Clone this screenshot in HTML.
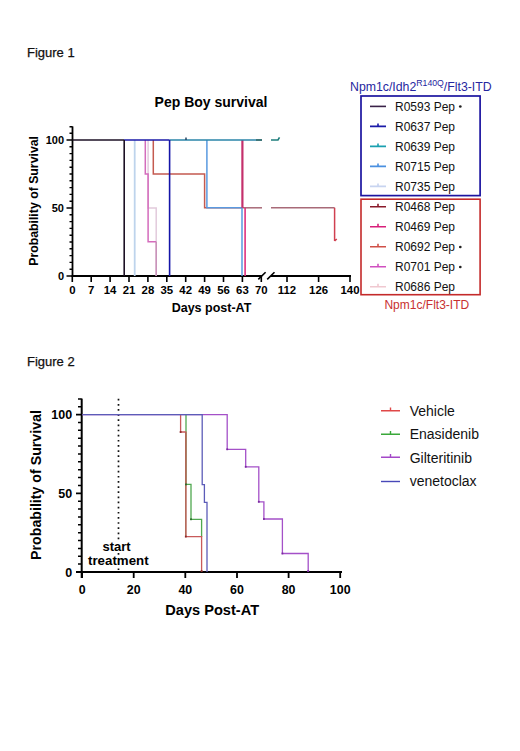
<!DOCTYPE html>
<html><head><meta charset="utf-8"><style>
html,body{margin:0;padding:0;background:#fff;width:520px;height:751px;overflow:hidden}
svg{position:absolute;left:0;top:0;display:block}
text{font-family:"Liberation Sans",sans-serif}
.b{font-weight:bold}
</style></head><body>
<svg width="520" height="751" viewBox="0 0 520 751">
<rect width="520" height="751" fill="#fff"/>
<!-- Figure captions -->
<text x="27" y="56.7" font-size="13" fill="#111" stroke="#111" stroke-width="0.25">Figure 1</text>
<text x="27" y="365.7" font-size="13" fill="#111" stroke="#111" stroke-width="0.25">Figure 2</text>

<!-- ============ CHART 1 ============ -->
<text x="211" y="106.7" font-size="14" class="b" text-anchor="middle" fill="#000">Pep Boy survival</text>
<text transform="translate(37.6,200.9) rotate(-90)" font-size="12.3" class="b" text-anchor="middle" fill="#000">Probability of Survival</text>
<!-- y labels -->
<g font-size="11" class="b" text-anchor="end" fill="#000">
<text x="64" y="144">100</text>
<text x="64" y="212">50</text>
<text x="64" y="280">0</text>
</g>
<!-- axes -->
<g stroke="#000" fill="none">
<path d="M72.5,126.4 V276.8" stroke-width="1.8"/>
<path d="M71.6,276 H262 M271,276 H351" stroke-width="1.8"/>
<path d="M66.5,140 H72.5 M66.5,208 H72.5 M66.5,276 H72.5" stroke-width="1.6"/>
<path d="M69.5,126.8 H72.5 M69.5,133.2 H72.5 M69.5,146.8 H72.5 M69.5,153.6 H72.5 M69.5,160.4 H72.5 M69.5,167.2 H72.5 M69.5,174 H72.5 M69.5,180.8 H72.5 M69.5,187.6 H72.5 M69.5,194.4 H72.5 M69.5,201.2 H72.5 M69.5,214.8 H72.5 M69.5,221.6 H72.5 M69.5,228.4 H72.5 M69.5,235.2 H72.5 M69.5,242 H72.5 M69.5,248.8 H72.5 M69.5,255.6 H72.5 M69.5,262.4 H72.5 M69.5,269.2 H72.5" stroke-width="1.4"/>
<path d="M72.3,276 V282 M91.2,276 V282 M110.1,276 V282 M129,276 V282 M147.9,276 V282 M166.8,276 V282 M185.7,276 V282 M204.6,276 V282 M223.5,276 V282 M242.4,276 V282 M261.3,276 V282 M287,276 V282 M318.6,276 V282 M350,276 V282" stroke-width="1.6"/>
<path d="M258.3,279.4 L265.6,272.2 M267.2,279.4 L274.5,272.2" stroke-width="1.6"/>
</g>
<g font-size="11.4" class="b" text-anchor="middle" fill="#000">
<text x="72.3" y="294.2">0</text><text x="91.2" y="294.2">7</text><text x="110.1" y="294.2">14</text><text x="129" y="294.2">21</text><text x="147.9" y="294.2">28</text><text x="166.8" y="294.2">35</text><text x="185.7" y="294.2">42</text><text x="204.6" y="294.2">49</text><text x="223.5" y="294.2">56</text><text x="242.4" y="294.2">63</text><text x="261.3" y="294.2">70</text><text x="287" y="294.2">112</text><text x="318.6" y="294.2">126</text><text x="350" y="294.2">140</text>
</g>
<text x="211.5" y="312.2" font-size="12.5" class="b" text-anchor="middle" fill="#000">Days post-AT</text>

<!-- curves chart 1 -->
<g fill="none" stroke-width="1.5">
<!-- R0686 light pink -->
<path d="M148.1,140 V208 H156.2 V276" stroke="#e2cadc"/>
<!-- R0735 very light blue -->
<path d="M134.7,140 V276" stroke="#bed4ec" stroke-width="1.8"/>
<!-- R0701 pink magenta -->
<path d="M145.3,140 V174 H148.1 V241.8 H156.2" stroke="#d46cbc"/><path d="M156.2,241.8 V276" stroke="#c890b8"/>
<!-- R0692 red-brown -->
<path d="M153.3,140 V174 H204.6 V207.8 H244" stroke="#c45a50"/><path d="M244,207.8 H262" stroke="#a86a78"/>
<path d="M271,207.8 H334.6" stroke="#a86a78"/>
<path d="M334.6,207.8 V241 M334.6,241 L336.8,239" stroke="#d04050"/>
<!-- R0715 light blue -->
<path d="M206.9,140 V207.8 H242 V276" stroke="#5a9ae0"/>
<!-- R0469 magenta -->
<path d="M242.4,140 V207.8" stroke="#c4306c" stroke-width="2.2"/>
<path d="M245.1,207.8 V276" stroke="#e0307e" stroke-width="1.6"/>
<!-- top line segments -->
<path d="M72.5,140 H124" stroke="#1c1024" stroke-width="1.6"/>
<path d="M124,140 H169.6" stroke="#1a1aa8" stroke-width="1.6"/>
<path d="M169.6,140 H256" stroke="#2a84a8" stroke-width="1.6"/><path d="M256,140 H262" stroke="#1c5e62" stroke-width="1.7"/>
<path d="M271,140 H278 L279.5,137.3" stroke="#1e7e7c" stroke-width="1.6"/>
<path d="M186,140 V137.5" stroke="#1a3a5a" stroke-width="1.4"/>
<!-- R0593 dark -->
<path d="M124.2,140 V276" stroke="#1c1024" stroke-width="1.6"/>
<!-- R0637 blue -->
<path d="M169.6,140 V276" stroke="#1414a8" stroke-width="1.6"/>
</g>

<!-- legend chart 1 -->
<text x="350" y="90.6" font-size="12.3" fill="#2626a0">Npm1c/Idh2<tspan font-size="8.7" dy="-4.9">R140Q</tspan><tspan dy="4.9">/Flt3-ITD</tspan></text>
<rect x="361" y="96" width="119.1" height="99.6" fill="none" stroke="#1c14a0" stroke-width="1.7"/>
<rect x="361" y="199.2" width="119.1" height="95.5" fill="none" stroke="#c42a2a" stroke-width="1.6"/>
<g font-size="12" fill="#111">
<text x="395" y="110.5">R0593 Pep</text>
<text x="395" y="130.5">R0637 Pep</text>
<text x="395" y="150.5">R0639 Pep</text>
<text x="395" y="170.5">R0715 Pep</text>
<text x="395" y="190.5">R0735 Pep</text>
<text x="395" y="211">R0468 Pep</text>
<text x="395" y="231">R0469 Pep</text>
<text x="395" y="251">R0692 Pep</text>
<text x="395" y="271">R0701 Pep</text>
<text x="395" y="291">R0686 Pep</text>
</g>
<g fill="#222">
<circle cx="460.3" cy="106.5" r="1.35"/>
<circle cx="460.3" cy="247" r="1.35"/>
<circle cx="460.3" cy="267" r="1.35"/>
</g>
<g fill="none" stroke-width="1.6">
<path d="M370,106.4 H386" stroke="#3a2248"/>
<path d="M370,126.4 H386 M378,126.4 V123.4" stroke="#1a1aa8"/>
<path d="M370,146.4 H386 M378,146.4 V143.4" stroke="#1aa0b0"/>
<path d="M370,166.4 H386 M378,166.4 V163.4" stroke="#4a90e0"/>
<path d="M370,186.4 H386 M378,186.4 V183.4" stroke="#c8d4f0"/>
<path d="M370,206.8 H386 M378,206.8 V203.8" stroke="#8a1a2a"/>
<path d="M370,226.8 H386 M378,226.8 V223.8" stroke="#d8207a"/>
<path d="M370,246.8 H386 M378,246.8 V243.8" stroke="#d05048"/>
<path d="M370,266.8 H386 M378,266.8 V263.8" stroke="#d050c0"/>
<path d="M370,286.8 H386 M378,286.8 V283.8" stroke="#f0c8d0"/>
</g>
<text x="426.8" y="309.3" font-size="12" text-anchor="middle" fill="#c83030">Npm1c/Flt3-ITD</text>

<!-- ============ CHART 2 ============ -->
<text transform="translate(40.6,485) rotate(-90)" font-size="14.2" class="b" text-anchor="middle" fill="#000">Probability of Survival</text>
<g font-size="12.5" class="b" text-anchor="end" fill="#000">
<text x="72.2" y="419.1">100</text>
<text x="72.2" y="497.8">50</text>
<text x="72.2" y="576.5">0</text>
</g>
<g stroke="#000" fill="none">
<path d="M81.7,398.6 V578" stroke-width="2"/>
<path d="M80.7,572 H342" stroke-width="2"/>
<path d="M76,414.6 H81.7 M76,493.3 H81.7 M76,572 H81.7" stroke-width="1.8"/>
<path id="mt" d="M78,398.9 H81.7 M78,406.7 H81.7 M78,422.5 H81.7 M78,430.3 H81.7 M78,438.2 H81.7 M78,446.1 H81.7 M78,454 H81.7 M78,461.8 H81.7 M78,469.7 H81.7 M78,477.6 H81.7 M78,485.4 H81.7 M78,501.2 H81.7 M78,509 H81.7 M78,516.9 H81.7 M78,524.8 H81.7 M78,532.7 H81.7 M78,540.5 H81.7 M78,548.4 H81.7 M78,556.3 H81.7 M78,564.1 H81.7" stroke-width="1.5"/>
<path d="M82.1,572 V578 M133.7,572 V578 M185.3,572 V578 M237,572 V578 M288.6,572 V578 M340.2,572 V578" stroke-width="1.8"/>
</g>
<g font-size="12.4" class="b" text-anchor="middle" fill="#000">
<text x="82.1" y="593.6">0</text><text x="133.7" y="593.6">20</text><text x="185.3" y="593.6">40</text><text x="237" y="593.6">60</text><text x="288.6" y="593.6">80</text><text x="340.2" y="593.6">100</text>
</g>
<text x="212.2" y="614.5" font-size="14.6" class="b" text-anchor="middle" fill="#000">Days Post-AT</text>
<!-- dotted line -->
<path d="M118.5,398.8 V571" stroke="#111" stroke-width="1.7" stroke-dasharray="1.7 3.44" fill="none"/>
<rect x="102" y="540.5" width="29" height="11.5" fill="#fff"/><rect x="87.5" y="556" width="62" height="11.5" fill="#fff"/>
<text x="116.5" y="550.5" font-size="13" class="b" text-anchor="middle" fill="#000">start</text>
<text x="118.3" y="565" font-size="13.3" class="b" text-anchor="middle" fill="#000">treatment</text>

<!-- curves chart 2 -->
<g fill="none" stroke-width="1.3">
<path d="M82.5,414.7 H227.2 V449.3 H245.7 V466.8 H258.8 V501.8 H263.9 V519 H282.4 V553.5 H308.2 V572" stroke="#a450c8"/>
<path d="M186,414.7 V484.4 H191 V519.3 H201.6 V537" stroke="#50a850"/>
<path d="M180.6,414.7 V432 H185.8 V536.6 H201.6 V572" stroke="#c85a5a"/>
<path d="M185.8,432 V536.6" stroke="#b06a58"/>
<path d="M82.5,414.7 H202.2 V484.6 H204.4 V502.3 H207 V572" stroke="#5c5cb8"/>
</g>
<g>
<g fill="#7a2aa0">
<rect x="226.3" y="448.4" width="1.8" height="1.8"/><rect x="244.8" y="465.9" width="1.8" height="1.8"/><rect x="257.9" y="500.9" width="1.8" height="1.8"/><rect x="263" y="518.1" width="1.8" height="1.8"/><rect x="281.5" y="552.6" width="1.8" height="1.8"/><rect x="307.3" y="570.2" width="1.8" height="1.8"/>
</g>
<g fill="#8a2a2a"><rect x="179.7" y="431.1" width="1.8" height="1.8"/><rect x="184.9" y="535.7" width="1.8" height="1.8"/><rect x="200.7" y="570.2" width="1.8" height="1.8"/></g>
<g fill="#2a6a2a"><rect x="185.1" y="483.5" width="1.8" height="1.8"/><rect x="190.1" y="518.4" width="1.8" height="1.8"/></g>
</g>
<!-- legend chart 2 -->
<g fill="none" stroke-width="1.4">
<path d="M381,410.7 H400 M390.5,410.7 V407.5" stroke="#e04848"/>
<path d="M381,434.2 H400 M390.5,434.2 V431" stroke="#3aa83a"/>
<path d="M381,457.3 H400 M390.5,457.3 V454.1" stroke="#a448c8"/>
<path d="M381,481.5 H400" stroke="#4848b8"/>
</g>
<g font-size="14" fill="#111">
<text x="409.7" y="415.8">Vehicle</text>
<text x="409.7" y="439">Enasidenib</text>
<text x="409.7" y="462.5">Gilteritinib</text>
<text x="409.7" y="486.2">venetoclax</text>
</g>
</svg>
</body></html>
